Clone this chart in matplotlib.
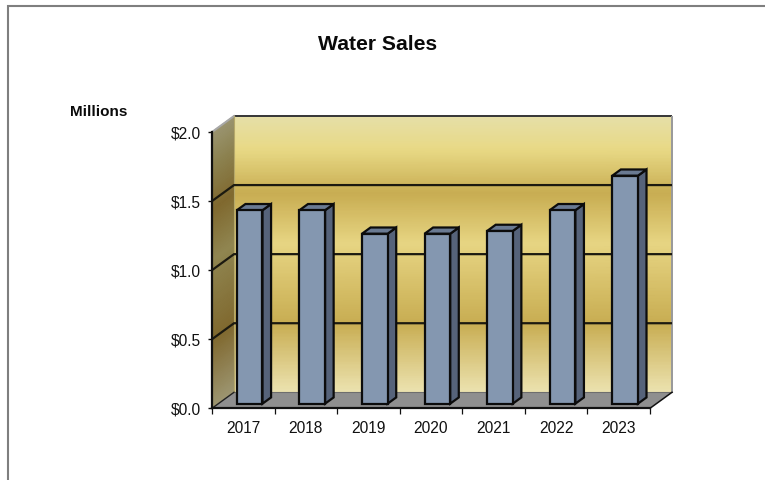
import numpy as np
import matplotlib
matplotlib.use("Agg")
import matplotlib.pyplot as plt
from matplotlib.colors import LinearSegmentedColormap
from matplotlib.lines import Line2D
from matplotlib.patches import Polygon

years = ["2017", "2018", "2019", "2020", "2021", "2022", "2023"]
sales = [1.40, 1.40, 1.23, 1.23, 1.25, 1.40, 1.65]
y_ticks = [0.0, 0.5, 1.0, 1.5, 2.0]
y_labels = ["$0.0", "$0.5", "$1.0", "$1.5", "$2.0"]

W, H = 765, 480
plt.rcParams["font.family"] = ["Liberation Sans", "DejaVu Sans"]
fig = plt.figure(figsize=(W / 100, H / 100), dpi=100, facecolor="white")

# plot frame in pixels
L, R, B, T = 212, 650, 408.3, 132
ax = fig.add_axes([L / W, 1 - B / H, (R - L) / W, (B - T) / H])
n = len(years)
ax.set_xlim(0, n)
ax.set_ylim(0, 2)
DX = 22 / ((R - L) / n)   # depth offset in category units
DY = 16 / ((B - T) / 2)   # depth offset in value units
lw = 1.6

# Stops run from bottom (0) to top (1) of the walls
back_cmap = LinearSegmentedColormap.from_list("back", [
    (0.00, "#ece3b0"), (0.25, "#c8ad52"), (0.54, "#e7d583"),
    (0.72, "#c8ad52"), (0.88, "#e8d985"), (1.00, "#e6dfa8")])
side_cmap = LinearSegmentedColormap.from_list("side", [
    (0.00, "#9d9672"), (0.25, "#80692f"), (0.54, "#908651"),
    (0.72, "#80692f"), (0.88, "#8c8250"), (1.00, "#9a9470")])

t = np.linspace(0, 1, 80)
# back wall
Xb, Yb = np.meshgrid(np.array([DX, n + DX]), DY + t * 2)
Cb = np.tile(t[:, None], (1, 2))
ax.pcolormesh(Xb, Yb, Cb, cmap=back_cmap, shading="gouraud", clip_on=False, zorder=1, vmin=0, vmax=1)
# left side wall, gradient skewed along the depth
d = np.array([0, 1])
Xs = np.tile(d * DX, (len(t), 1))
Ys = t[:, None] * 2 + d[None, :] * DY
Cs = np.tile(t[:, None], (1, 2))
ax.pcolormesh(Xs, Ys, Cs, cmap=side_cmap, shading="gouraud", clip_on=False, zorder=1, vmin=0, vmax=1)
# floor
ax.add_patch(Polygon([(0, 0), (n, 0), (n + DX, DY), (DX, DY)], closed=True, fc="#8f8f8f", ec="none",
                     clip_on=False, zorder=1.1))
# wall edges
ax.plot([DX, n + DX], [2 + DY, 2 + DY], color="#3a3a3a", lw=1.44, clip_on=False, zorder=1.2, solid_capstyle="butt")
ax.plot([0, DX], [2, 2 + DY], color="#a8a8a8", lw=1.44, clip_on=False, zorder=1.2)
ax.plot([n + DX, n + DX], [DY, 2 + DY], color="#9a9a9a", lw=1.44, clip_on=False, zorder=1.2, solid_capstyle="butt")
ax.plot([DX, n + DX], [DY, DY], color="#6e6e6e", lw=0.8, clip_on=False, zorder=1.2)
ax.plot([DX, DX], [DY, 2 + DY], color="#b5a86a", lw=0.8, clip_on=False, zorder=1.2)
ax.plot([n, n + DX], [0, DY], color="#111111", lw=1.1, clip_on=False, zorder=1.2)
ax.plot([0, DX], [0, DY], color="#222222", lw=1.0, clip_on=False, zorder=1.2)
# gridlines on the walls
for v in y_ticks[1:-1]:
    ax.plot([0, DX, n + DX], [v, v + DY, v + DY], color="#1c1a10", lw=lw, clip_on=False, zorder=1.3,
            solid_joinstyle="miter", solid_capstyle="butt")

# bars
width = 0.41
d0, d1 = 0.29, 0.68
for i, v in enumerate(sales):
    x0 = i + 0.5 - width / 2 + d0 * DX
    x1 = x0 + width
    y0 = d0 * DY
    y1 = v + d0 * DY
    ox, oy = (d1 - d0) * DX, (d1 - d0) * DY
    style = dict(closed=True, ec="#0c0c0c", lw=lw, joinstyle="miter", clip_on=False, zorder=2)
    ax.add_patch(Polygon([(x1, y0), (x1 + ox, y0 + oy), (x1 + ox, y1 + oy), (x1, y1)], fc="#56637a", **style))
    ax.add_patch(Polygon([(x0, y1), (x1, y1), (x1 + ox, y1 + oy), (x0 + ox, y1 + oy)], fc="#6a7a92", **style))
    ax.add_patch(Polygon([(x0, y0), (x1, y0), (x1, y1), (x0, y1)], fc="#8497b0", **style))

# axes furniture
for s in ("top", "right"):
    ax.spines[s].set_visible(False)
for s in ("left", "bottom"):
    ax.spines[s].set_linewidth(1.6)
    ax.spines[s].set_color("#111111")
    ax.spines[s].set_zorder(3)
ax.patch.set_visible(False)
ax.set_yticks(y_ticks, y_labels, fontsize=11.2, color="#111111")
ax.set_xticks(np.arange(n + 1), [""] * (n + 1))
ax.set_xticks(np.arange(n) + 0.5, years, minor=True, fontsize=11.2, color="#111111")
ax.tick_params(axis="x", which="major", length=4.3, width=0.9, color="#111111")
ax.tick_params(axis="x", which="minor", length=0, pad=9.5)
ax.tick_params(axis="y", length=3.2, width=1.0, color="#111111", pad=4.5)

fig.text(377.5 / W, 1 - 44.5 / H, "Water Sales", fontsize=15.2, fontweight="bold", ha="center", va="center", color="#0a0a0a")
fig.text(98.5 / W, 1 - 112.5 / H, "Millions", fontsize=11, fontweight="bold", ha="center", va="center", color="#0a0a0a")

# outer frame, open on the right and bottom
fig.add_artist(Line2D([1, 7.5 / W, 7.5 / W], [1 - 5.5 / H, 1 - 5.5 / H, 0], transform=fig.transFigure,
                      color="#7f7f7f", lw=1.5, solid_joinstyle="miter"))

fig.savefig("out.png", dpi=100, facecolor="white")
